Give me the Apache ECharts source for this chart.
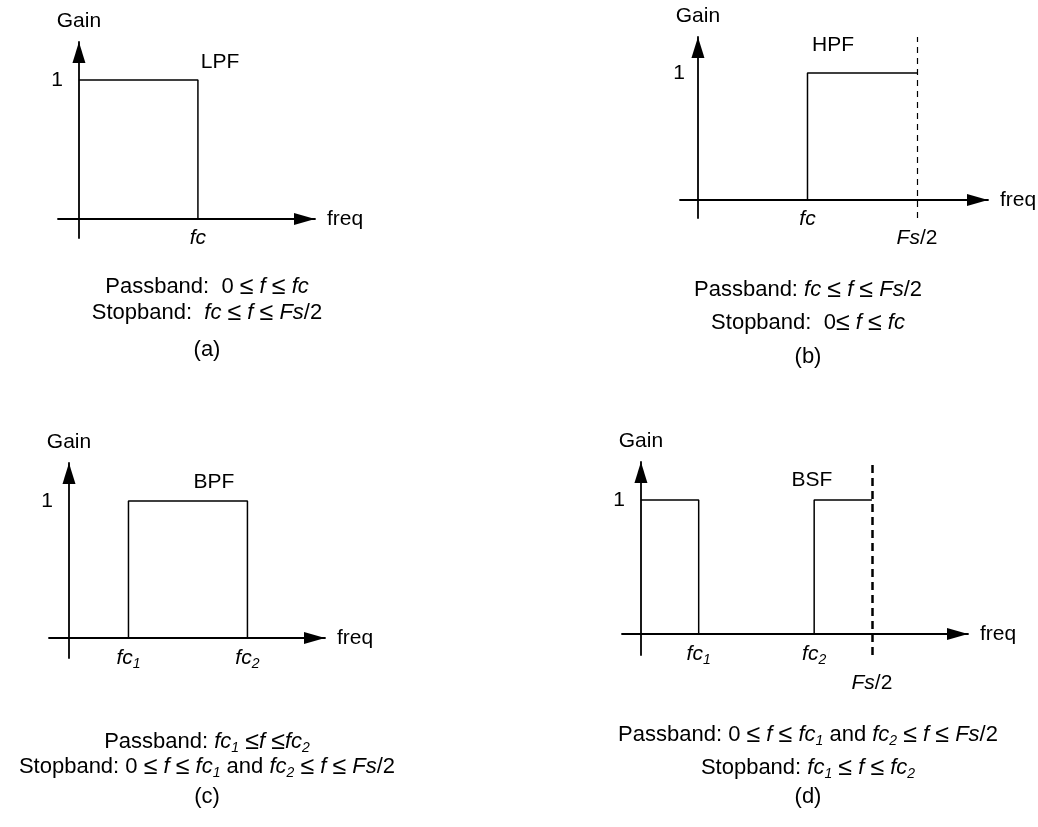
<!DOCTYPE html>
<html>
<head>
<meta charset="utf-8">
<script src="https://cdn.jsdelivr.net/npm/echarts@6/dist/echarts.min.js"></script>
<style>
html, body { margin: 0; padding: 0; background: #ffffff; }
#chart { width: 1038px; height: 827px; }
</style>
</head>
<body>
<div id="chart"></div>
<script>
// ---------------- data (frequency normalised so that Fs/2 = 1) ----------------
const lpfFreq = [0, 0.5, 0.5];
const lpfGain = [1, 1, 0];
const hpfFreq = [0.5, 0.5, 1];
const hpfGain = [0, 1, 1];
const bpfFreq = [0.25, 0.25, 0.75, 0.75];
const bpfGain = [0, 1, 1, 0];
const bsfLowFreq = [0, 0.25, 0.25];
const bsfLowGain = [1, 1, 0];
const bsfHighFreq = [0.75, 0.75, 1];
const bsfHighGain = [0, 1, 1];
const nyquistFreq = 1;            // Fs/2
const nyquistLabel = '{i|Fs}/2';

const gainTickValues = [1];
const gainTickLabels = ['1'];
const lpfTickValues = [0.5];        const lpfTickLabels = ['{i|fc}'];
const hpfTickValues = [0.5];        const hpfTickLabels = ['{i|fc}'];
const bpfTickValues = [0.25, 0.75]; const bpfTickLabels = ['{i|fc}{s|1}', '{i|fc}{s|2}'];
const bsfTickValues = [0.25, 0.75]; const bsfTickLabels = ['{i|fc}{s|1}', '{i|fc}{s|2}'];

const filterNames = ['LPF', 'HPF', 'BPF', 'BSF'];
const panelLetters = ['(a)', '(b)', '(c)', '(d)'];
const passbandTexts = [
  'Passband:  0 {le|≤} {i|f} {le|≤} {i|fc}',
  'Passband: {i|fc} {le|≤} {i|f} {le|≤} {i|Fs}/2',
  'Passband: {i|fc}{s|1} {le|≤}{i|f} {le|≤}{i|fc}{s|2}',
  'Passband: 0 {le|≤} {i|f} {le|≤} {i|fc}{s|1} and {i|fc}{s|2} {le|≤} {i|f} {le|≤} {i|Fs}/2'
];
const stopbandTexts = [
  'Stopband:  {i|fc} {le|≤} {i|f} {le|≤} {i|Fs}/2',
  'Stopband:  0{le|≤} {i|f} {le|≤} {i|fc}',
  'Stopband: 0 {le|≤} {i|f} {le|≤} {i|fc}{s|1} and {i|fc}{s|2} {le|≤} {i|f} {le|≤} {i|Fs}/2',
  'Stopband: {i|fc}{s|1} {le|≤} {i|f} {le|≤} {i|fc}{s|2}'
];
const axisXName = 'freq';
const axisYName = 'Gain';

// ---------------- layout & style ----------------
const FONT = "'Liberation Sans', Arial, sans-serif";
const FS = 21;
const CFS = 22;
function makeRich(size) {
  return {
    i:  { fontStyle: 'italic', fontFamily: FONT, fontSize: size, color: '#000', lineHeight: 26 },
    s:  { fontStyle: 'italic', fontFamily: FONT, fontSize: 14, color: '#000', lineHeight: 14, verticalAlign: 'bottom' },
    le: { fontFamily: FONT, fontSize: size + 3, color: '#000', lineHeight: 26 }
  };
}
const RICH = makeRich(FS);
const CRICH = makeRich(CFS);
const grids = [
  { left: 58,  top: 42,  width: 257, height: 196 },
  { left: 680, top: 37,  width: 308, height: 181 },
  { left: 49,  top: 463, width: 276, height: 195 },
  { left: 622, top: 462, width: 346, height: 193 }
];
const xRanges = [[-0.088, 0.992], [-0.082, 1.324], [-0.084, 1.076], [-0.082, 1.416]];
const yRanges = [[-0.137, 1.273], [-0.142, 1.283], [-0.146, 1.277], [-0.157, 1.284]];
const xLabelMargins = [-13, -12, -13, -14];
const yLabelMargins = [-5, -5, -4, -3];
const nyquistLabelDist = [6, 7, 6, 15];
const tickSets = [
  [lpfTickValues, lpfTickLabels],
  [hpfTickValues, hpfTickLabels],
  [bpfTickValues, bpfTickLabels],
  [bsfTickValues, bsfTickLabels]
];
const namePos = [[220, 62], [833, 45], [214, 482], [812, 480]];
const captionPos = [
  [207, 287, 313, 350],
  [808, 290, 323, 357],
  [207, 742, 767, 797],
  [808, 735, 768, 797]
];

function pairs(xs, ys) { return xs.map((x, k) => [x, ys[k]]); }

const xAxes = grids.map((g, k) => ({
  type: 'value', gridIndex: k, min: xRanges[k][0], max: xRanges[k][1],
  name: axisXName, nameLocation: 'end', nameGap: 12,
  nameTextStyle: { fontFamily: FONT, fontSize: FS, color: '#000', verticalAlign: 'middle' },
  axisLine: { show: true, onZero: true, symbol: ['none', 'triangle'], symbolSize: [12, 21], symbolOffset: [0, -10.5],
              lineStyle: { color: '#000', width: 1.8 } },
  axisTick: { show: false },
  splitLine: { show: false },
  axisLabel: {
    show: true, customValues: tickSets[k][0], margin: xLabelMargins[k],
    formatter: (v) => { const idx = tickSets[k][0].indexOf(v); return idx >= 0 ? tickSets[k][1][idx] : ''; },
    fontFamily: FONT, fontSize: FS, color: '#000', lineHeight: 26, rich: RICH
  }
}));

const yAxes = grids.map((g, k) => ({
  type: 'value', gridIndex: k, min: yRanges[k][0], max: yRanges[k][1],
  name: axisYName, nameLocation: 'end', nameGap: 10,
  nameTextStyle: { fontFamily: FONT, fontSize: FS, color: '#000', align: 'center' },
  axisLine: { show: true, onZero: true, symbol: ['none', 'triangle'], symbolSize: [13, 21], symbolOffset: [0, -10.5],
              lineStyle: { color: '#000', width: 1.8 } },
  axisTick: { show: false },
  splitLine: { show: false },
  axisLabel: {
    show: true, customValues: gainTickValues, margin: yLabelMargins[k],
    formatter: (v) => { const idx = gainTickValues.indexOf(v); return idx >= 0 ? gainTickLabels[idx] : ''; },
    fontFamily: FONT, fontSize: FS, color: '#000'
  }
}));

const lineStyle = { color: '#000', width: 1.5 };
function responseSeries(k, xs, ys) {
  return { type: 'line', xAxisIndex: k, yAxisIndex: k, data: pairs(xs, ys), showSymbol: false, symbol: 'none',
           lineStyle: lineStyle, silent: true, z: 3 };
}
function nyquistMark(k, width, dash) {
  return {
    silent: true, symbol: ['none', 'none'],
    lineStyle: { color: '#000', width: width, type: dash },
    label: { show: true, position: 'start', distance: nyquistLabelDist[k], formatter: nyquistLabel,
             fontFamily: FONT, fontSize: FS, color: '#000', rich: RICH },
    data: [{ xAxis: nyquistFreq }]
  };
}

const series = [
  responseSeries(0, lpfFreq, lpfGain),
  Object.assign(responseSeries(1, hpfFreq, hpfGain), { markLine: nyquistMark(1, 1.2, [6, 5]) }),
  responseSeries(2, bpfFreq, bpfGain),
  responseSeries(3, bsfLowFreq, bsfLowGain),
  Object.assign(responseSeries(3, bsfHighFreq, bsfHighGain), { markLine: nyquistMark(3, 2.5, [8, 5]) })
];

function title(text, x, y, size, rich) {
  return { text: text, left: x, top: y, textAlign: 'center', textVerticalAlign: 'middle', padding: 0,
           textStyle: { fontFamily: FONT, fontSize: size, fontWeight: 'normal', color: '#000', lineHeight: 26, rich: rich } };
}
const titles = [];
for (let k = 0; k < 4; k++) {
  titles.push(title(filterNames[k], namePos[k][0], namePos[k][1], FS, RICH));
  titles.push(title(passbandTexts[k], captionPos[k][0], captionPos[k][1], CFS, CRICH));
  titles.push(title(stopbandTexts[k], captionPos[k][0], captionPos[k][2], CFS, CRICH));
  titles.push(title(panelLetters[k], captionPos[k][0], captionPos[k][3], CFS, CRICH));
}

const chart = echarts.init(document.getElementById('chart'), null, { renderer: 'canvas' });
chart.setOption({
  backgroundColor: '#ffffff',
  animation: false,
  title: titles,
  grid: grids.map(g => Object.assign({ containLabel: false, outerBoundsMode: 'none' }, g)),
  xAxis: xAxes,
  yAxis: yAxes,
  series: series
});
</script>
</body>
</html>
